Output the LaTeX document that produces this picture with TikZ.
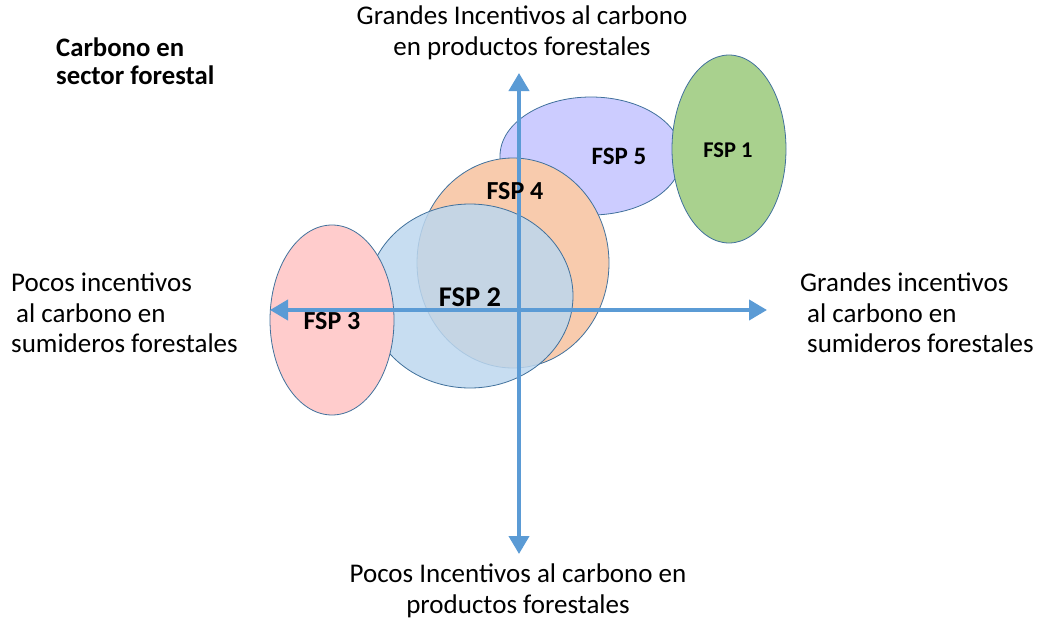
\documentclass[tikz,border=0pt]{standalone}
\usepackage{fontspec}
\setmainfont{Carlito}
\usetikzlibrary{shapes.geometric,arrows.meta,positioning}
\definecolor{ejeazul}{RGB}{91,155,213}
\definecolor{borde}{RGB}{65,113,156}
\definecolor{verde}{RGB}{169,209,142}
\definecolor{lila}{RGB}{204,204,255}
\definecolor{naranja}{RGB}{248,203,173}
\definecolor{celeste}{RGB}{189,215,238}
\definecolor{rosa}{RGB}{255,204,204}
\tikzstyle{zona} = [ellipse, draw=borde, line width=0.8pt, inner sep=0pt]
\tikzstyle{eje} = [draw=ejeazul, line width=4pt,
  {Triangle[length=18pt,width=20pt]}-{Triangle[length=18pt,width=20pt]}]
\tikzstyle{fsp} = [inner sep=0pt]
\tikzstyle{rotulo} = [font=\fontsize{27}{30.5}\selectfont, inner sep=0pt]

\begin{document}
\begin{tikzpicture}[x=1pt, y=-1pt]
    \useasboundingbox (0,0) rectangle (1041,626);

    \node [zona, fill=lila, minimum width=182, minimum height=118] (fsp5) at (591,156) {};
    \node [zona, fill=verde, minimum width=114, minimum height=188] (fsp1) at (729,149) {};
    \node [zona, fill=naranja, minimum width=192, minimum height=210] (fsp4) at (513,263) {};
    \node [zona, fill=celeste, fill opacity=0.85, minimum width=206, minimum height=184] (fsp2) at (470,296) {};
    \node [zona, fill=rosa, minimum width=124, minimum height=190] (fsp3) at (332,320) {};

    \coordinate (izq) at (270,310);
    \coordinate (der) at (767,310);
    \coordinate (arriba) at (519,73);
    \coordinate (abajo) at (519,554);
    \path [eje] (izq) -- (der);
    \path [eje] (abajo) -- (arriba);

    \node [fsp, font=\fontsize{22.5}{27}\selectfont\bfseries] (tfsp1) at (728,150) {FSP 1};
    \node [fsp, font=\fontsize{25}{30}\selectfont\bfseries] (tfsp5) at (619,156) {FSP 5};
    \node [fsp, font=\fontsize{26}{30}\selectfont\bfseries] (tfsp4) at (515,191) {FSP 4};
    \node [fsp, font=\fontsize{28.5}{33}\selectfont\bfseries] (tfsp2) at (470,297) {FSP 2};
    \node [fsp, font=\fontsize{26}{30}\selectfont\bfseries] (tfsp3) at (332,321) {FSP 3};

    \node [rotulo, align=center] (grandesprod) at (522,33)
      {Grandes Incentivos al carbono\\en productos forestales};
    \node [rotulo, align=center] (pocosprod) at (518,591)
      {Pocos Incentivos al carbono en\\productos forestales};
    \node [rotulo, align=left, anchor=west] (pocossum) at (11,313)
      {Pocos incentivos\\\hspace*{5pt}al carbono en\\sumideros forestales};
    \node [rotulo, align=left, anchor=west] (grandessum) at (800,313)
      {Grandes incentivos\\\hspace*{7pt}al carbono en\\\hspace*{7pt}sumideros forestales};
    \node [rotulo, align=left, anchor=west, font=\fontsize{26.7}{28}\selectfont\bfseries] (titulo) at (56,61)
      {Carbono en\\sector forestal};
\end{tikzpicture}
\end{document}
